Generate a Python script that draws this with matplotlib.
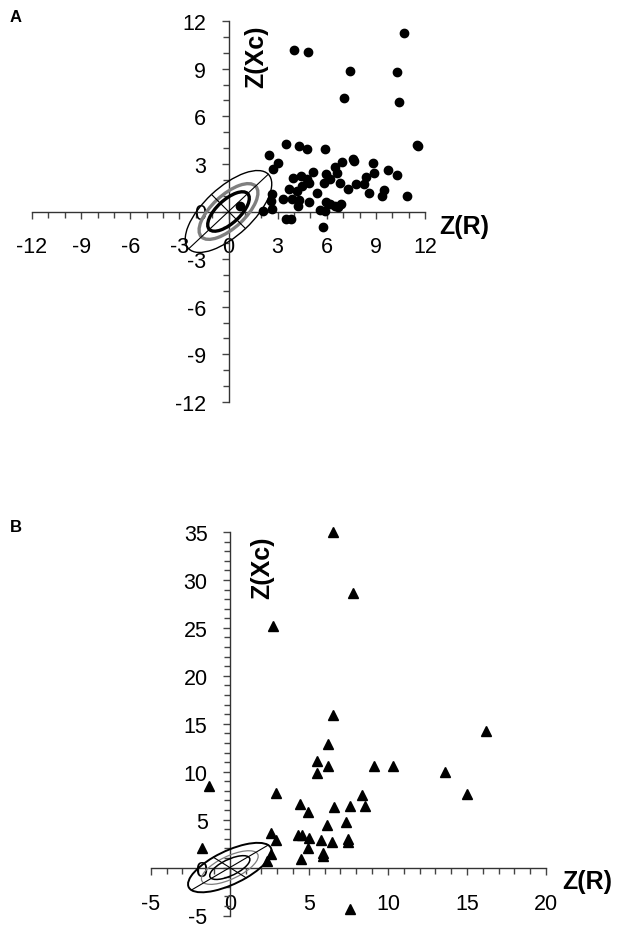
import numpy as np
import matplotlib
matplotlib.use('Agg')
import matplotlib.pyplot as plt
from matplotlib.patches import Ellipse
from matplotlib.ticker import MultipleLocator

# panel A - Z scores, circles
a_zr = [10.73, 3.98, 4.86, 7.42, 10.30, 7.07, 10.39, 11.54, 11.56, 3.54,
        4.31, 4.80, 5.87, 2.50, 3.03, 2.70, 6.93, 7.58, 7.65, 8.80,
        6.48, 5.14, 6.60, 5.96, 9.72, 8.90, 10.30, 4.45, 3.92, 4.80,
        8.40, 6.20, 5.81, 4.90, 6.80, 7.80, 8.25, 4.47, 3.72, 4.20,
        7.28, 5.40, 9.50, 9.40, 8.56, 2.66, 10.90, 3.31, 3.85, 4.30,
        4.90, 2.60, 5.97, 4.23, 6.90, 6.50, 6.20, 6.70, 2.66, 2.13,
        5.60, 5.90, 3.50, 3.80, 5.80, 0.70]
a_zxc = [11.22, 10.18, 10.05, 8.84, 8.80, 7.14, 6.90, 4.20, 4.10, 4.27,
         4.14, 3.93, 3.95, 3.53, 3.07, 2.69, 3.09, 3.30, 3.15, 3.05,
         2.80, 2.48, 2.45, 2.38, 2.59, 2.40, 2.30, 2.25, 2.09, 2.05,
         2.15, 2.05, 1.81, 1.80, 1.80, 1.73, 1.73, 1.60, 1.42, 1.32,
         1.40, 1.14, 1.35, 1.00, 1.14, 1.10, 0.95, 0.79, 0.77, 0.70,
         0.62, 0.65, 0.62, 0.33, 0.50, 0.37, 0.50, 0.30, 0.16, 0.03,
         0.10, 0.05, -0.47, -0.47, -1.00, 0.37]

# panel B - Z scores, triangles
b_zr = [6.54, 7.78, 2.76, 6.54, 16.23, 9.10, 10.33, 13.60, 15.00, 8.39,
        6.58, 7.60, 8.56, 7.36, 6.18, 5.53, 6.22, 5.50, -1.30, 2.92,
        4.46, 4.92, 6.16, 2.63, 2.94, 4.29, 4.54, 4.98, 5.74, 6.44,
        7.47, 7.50, 4.94, 5.87, 5.87, 4.52, -1.77, 2.59, 2.36, 7.59]
b_zxc = [35.0, 28.6, 25.2, 15.9, 14.29, 10.56, 10.63, 9.97, 7.66, 7.60,
         6.35, 6.40, 6.40, 4.80, 12.90, 11.15, 10.60, 9.87, 8.50, 7.73,
         6.59, 5.76, 4.45, 3.65, 2.83, 3.38, 3.38, 3.04, 2.83, 2.66,
         2.70, 2.95, 2.00, 1.52, 1.24, 0.86, 2.00, 1.42, 0.66, -4.28]

# tolerance ellipses (50, 75, 95 %)
levels = [0.50, 0.75, 0.95]
sd_major = 1.38
sd_minor = 0.61
angle = 44

plt.rcParams['font.family'] = ['Liberation Sans', 'DejaVu Sans']
plt.rcParams['axes.unicode_minus'] = False

fig = plt.figure(figsize=(6.18, 9.28), dpi=100)
W, H = 618, 928

axA = fig.add_axes([32 / W, 1 - 403 / H, (425 - 32) / W, (403 - 22) / H])
axB = fig.add_axes([150.75 / W, 1 - 916.5 / H, (546 - 150.75) / W, (916.5 - 533) / H])


def setup(ax, lim_x, lim_y, major_x, major_y):
    ax.set_xlim(lim_x)
    ax.set_ylim(lim_y)
    ax.patch.set_alpha(0)
    for s in ['top', 'right']:
        ax.spines[s].set_visible(False)
    ax.spines['left'].set_position(('data', 0))
    ax.spines['bottom'].set_position(('data', 0))
    for s in ['left', 'bottom']:
        ax.spines[s].set_color('#333333')
        ax.spines[s].set_linewidth(1)
    ax.xaxis.set_major_locator(MultipleLocator(major_x))
    ax.yaxis.set_major_locator(MultipleLocator(major_y))
    ax.xaxis.set_minor_locator(MultipleLocator(1))
    ax.yaxis.set_minor_locator(MultipleLocator(1))
    ax.tick_params(which='both', direction='out', color='#444444', width=1)
    ax.tick_params(which='major', length=5, labelsize=15.5)
    ax.tick_params(which='minor', length=4.5)
    ax.tick_params(axis='x', which='major', pad=13)
    ax.tick_params(axis='y', which='major', pad=11)


def draw_ellipses(ax, widths, colors):
    for p, lw, c in zip(levels, widths, colors):
        k = np.sqrt(-2 * np.log(1 - p))
        e = Ellipse((0, 0), 2 * k * sd_major, 2 * k * sd_minor, angle=angle,
                    fill=False, edgecolor=c, linewidth=lw, zorder=3)
        ax.add_patch(e)
    k = np.sqrt(-2 * np.log(1 - levels[-1]))
    t = np.deg2rad(angle)
    ax.plot([-k * sd_major * np.cos(t), k * sd_major * np.cos(t)],
            [-k * sd_major * np.sin(t), k * sd_major * np.sin(t)],
            color='black', linewidth=0.8, zorder=3)
    ax.plot([k * sd_minor * np.sin(t), -k * sd_minor * np.sin(t)],
            [-k * sd_minor * np.cos(t), k * sd_minor * np.cos(t)],
            color='black', linewidth=0.8, zorder=3)


# Panel A
setup(axA, (-12, 12), (-12, 12), 3, 3)
draw_ellipses(axA, [2.4, 2.4, 1.0], ['black', '#7f7f7f', 'black'])
axA.plot(a_zr, a_zxc, 'o', color='black', markersize=6, clip_on=False, zorder=4)
axA.text(12.85, -0.9, 'Z(R)', fontsize=18, fontweight='bold', ha='left', va='center')
axA.text(1.7, 9.8, 'Z(Xc)', fontsize=18, fontweight='bold', rotation=90,
         ha='center', va='center')

# Panel B
setup(axB, (-5, 20), (-5, 35), 5, 5)
draw_ellipses(axB, [1.1, 0.9, 1.4], ['black', '#7f7f7f', 'black'])
axB.plot(b_zr, b_zxc, '^', color='black', markersize=6.5, clip_on=False, zorder=4)
axB.text(21.0, -1.35, 'Z(R)', fontsize=18, fontweight='bold', ha='left', va='center')
axB.text(2.08, 31.4, 'Z(Xc)', fontsize=18, fontweight='bold', rotation=90,
         ha='center', va='center')

fig.text(16 / W, 1 - 18 / H, 'A', fontsize=12, fontweight='bold', ha='center', va='center')
fig.text(16 / W, 1 - 528 / H, 'B', fontsize=12, fontweight='bold', ha='center', va='center')

fig.savefig('out.png', dpi=100)
